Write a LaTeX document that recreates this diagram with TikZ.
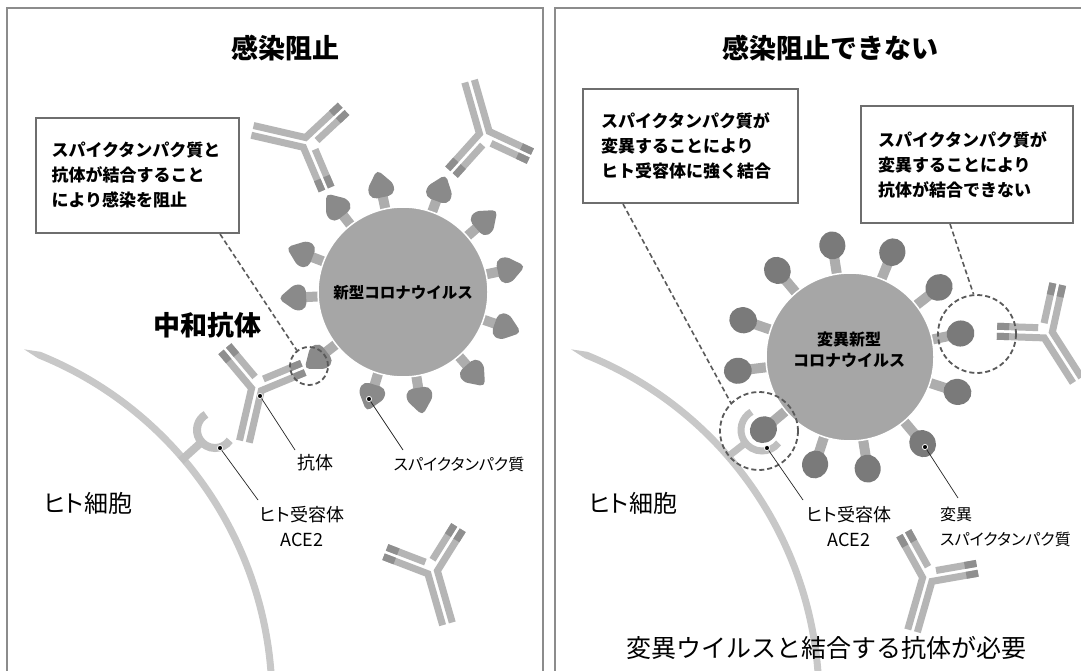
\documentclass[tikz,border=0pt]{standalone}
\usepackage{fontspec}
\setmainfont{Noto Sans CJK JP}
\newfontfamily\jpprop{Noto Sans CJK JP}[RawFeature=+palt]
\usetikzlibrary{calc}

\definecolor{framegray}{HTML}{8C8C8C}
\definecolor{boxgray}{HTML}{6E6E6E}
\definecolor{bodygray}{HTML}{A6A6A6}
\definecolor{stemgray}{HTML}{ADADAD}
\definecolor{headgray}{HTML}{8A8A8A}
\definecolor{mutgray}{HTML}{7A7A7A}
\definecolor{abgray}{HTML}{B5B5B5}
\definecolor{abvargray}{HTML}{8F8F8F}
\definecolor{wallgray}{HTML}{C8C8C8}
\definecolor{acegray}{HTML}{C0C0C0}
\definecolor{ringgray}{HTML}{5A5A5A}

% Y-shaped antibody: #1 stem angle, #2 and #3 arm angles (#3 lies counter-clockwise of #2)
\tikzset{
  pics/antibody/.style n args={3}{code={
    \begin{scope}[rotate=#1]
      \coordinate (hA0) at (0,-5); \coordinate (hA1) at (56,-5);
      \coordinate (hB0) at (0,5);  \coordinate (hB1) at (56,5);
    \end{scope}
    \begin{scope}[rotate=#2]
      \coordinate (cw0) at (0,5); \coordinate (cw1) at (50,5);
      \draw[abchain] (9,-5) -- (50,-5);
    \end{scope}
    \begin{scope}[rotate=#3]
      \coordinate (ccw0) at (0,-5); \coordinate (ccw1) at (50,-5);
      \draw[abchain] (9,5) -- (50,5);
    \end{scope}
    \draw[abchain] (hA1) -- (intersection of hA0--hA1 and cw0--cw1) -- (cw1);
    \draw[abchain] (hB1) -- (intersection of hB0--hB1 and ccw0--ccw1) -- (ccw1);
    \foreach \r in {#2,#3}{
      \begin{scope}[rotate=\r]
        \draw[abvar] (38,-5) -- (50,-5);
        \draw[abvar] (38,5) -- (50,5);
      \end{scope}
    }
  }}
}

\begin{document}
\begin{tikzpicture}[x=1pt, y=-1pt,
  frame/.style={draw=framegray, line width=1.4pt},
  title/.style={font=\bfseries\fontsize{27pt}{32pt}\selectfont},
  notebox/.style={draw=boxgray, line width=2pt, fill=white, anchor=north west, align=left,
    font=\bfseries\fontsize{17pt}{25pt}\selectfont},
  virus/.style={circle, fill=bodygray, draw=white, line width=1.5pt, inner sep=0pt},
  virusname/.style={align=center, font=\bfseries\fontsize{15.5pt}{21pt}\selectfont},
  spikestem/.style={draw=stemgray, line width=10pt},
  spikehead/.style={fill=headgray, rounded corners=5pt},
  abchain/.style={draw=abgray, line width=7pt, line join=miter},
  abvar/.style={draw=abvargray, line width=7pt},
  wall/.style={fill=wallgray},
  ace/.style={draw=acegray, line width=8pt},
  ring/.style={circle, draw=ringgray, line width=1.8pt, dash pattern=on 5pt off 3pt, inner sep=0pt},
  callout/.style={draw=ringgray, line width=1.6pt, dash pattern=on 5pt off 3pt},
  lbl/.style={align=center, inner sep=0pt, font=\jpprop\fontsize{18pt}{25pt}\selectfont},
  spikelbl/.style={lbl, font=\jpprop\fontsize{16pt}{25pt}\selectfont},
  leader/.style={draw=black!85, line width=0.7pt},
  dot/.style={fill=black, draw=white, line width=0.8pt}
]
\useasboundingbox (0,0) rectangle (1081,671);
\fill[white] (0,0) rectangle (1081,671);

% two panels
\draw[frame] (7,8) rectangle (543,700);
\draw[frame] (555,8) rectangle (1100,700);
\node[title] (titleL) at (285,48) {感染阻止};
\node[title] (titleR) at (830,48) {感染阻止できない};

% cell membranes
\foreach \cx in {-100,447}{
  \fill[wall] ($(\cx,700)+(-70.5:372)$) -- ($(\cx,700)+(-68:375.5)$)
    arc[start angle=-68, end angle=5, radius=375.5]
    -- ($(\cx,700)+(5:368.5)$) arc[start angle=5, end angle=-68, radius=368.5] -- cycle;
}

% ACE2 receptors
\draw[ace] ($(215,430)+(-120:18)$) arc[start angle=-120, end angle=-325, radius=18];
\draw[ace] ($(215,430)+(138:18)$) -- ($(215,430)+(138:46)$);
\draw[ace, line width=7pt] ($(762,430)+(-120:21)$) arc[start angle=-120, end angle=-322, radius=21];
\draw[ace, line width=7pt] ($(762,430)+(142:21)$) -- ($(762,430)+(142:44)$);

% coronavirus with spike proteins
\foreach \m in {102,70,41,12,-19,-49,-81,-107,-142,-177,159,128}{
  \begin{scope}[shift={(403,292)}, rotate=\m]
    \draw[spikestem] (80,0) -- (100,0);
    \fill[spikehead] (97,-11) -- (107,-14) -- (125,0) -- (107,14) -- (97,11) -- cycle;
  \end{scope}
}
\node[virus, minimum size=170pt] (cov) at (403,292) {};
\node[virusname] (covname) at (403,293) {新型コロナウイルス};

% variant with mutated spikes
\foreach \m in {130,99,68,38,12,-18,-50,-81,-108,-140,-173,161}{
  \begin{scope}[shift={(850,357)}, rotate=\m]
    \draw[spikestem] (80,0) -- (102,0);
    \fill[mutgray] (113,0) ellipse [x radius=14, y radius=13];
  \end{scope}
}
\node[virus, minimum size=168pt] (mcov) at (850,357) {};
\node[virusname, font=\bfseries\fontsize{16pt}{21pt}\selectfont] (mcovname) at (849,350) {変異新型\\コロナウイルス};

% antibodies
\pic at (307,143) {antibody={167}{-67}{43}};
\pic at (485,135) {antibody={106}{228}{335}};
\pic at (257,387) {antibody={257}{22.5}{130}};
\pic at (432,570) {antibody={286}{58}{159}};
\pic at (1047,333) {antibody={302.6}{77.6}{178}};
\pic at (928,577) {antibody={254}{10}{119}};

% binding sites
\node[ring, minimum size=38pt] (ringL) at (309,366) {};
\node[ring, minimum size=78pt] (ringACE) at (759,431) {};
\node[ring, minimum size=78pt] (ringAb) at (977,334) {};

% explanation boxes
\node[notebox, text width=172pt, inner xsep=15.5pt, minimum height=115pt] (noteL) at (35,117)
  {スパイクタンパク質と\\抗体が結合すること\\により感染を阻止};
\node[notebox, text width=179pt, inner xsep=18pt, minimum height=114pt] (noteR1) at (582,88)
  {スパイクタンパク質が\\変異することにより\\ヒト受容体に強く結合};
\node[notebox, text width=178pt, inner xsep=17pt, minimum height=117pt] (noteR2) at (860,105)
  {スパイクタンパク質が\\変異することにより\\抗体が結合できない};
\draw[callout] ($(noteL.south west)+(185,0)$) -- (ringL.128);
\draw[callout] ($(noteR1.south west)+(41,0)$) -- (ringACE.135);
\draw[callout] ($(noteR2.south west)+(90,0)$) -- (ringAb.95);

\node[font=\bfseries\fontsize{27pt}{32pt}\selectfont] (nab) at (207,325) {中和抗体};
\node[lbl, font=\jpprop\fontsize{24pt}{28pt}\selectfont] (cellL) at (88,503) {ヒト細胞};
\node[lbl, font=\jpprop\fontsize{24pt}{28pt}\selectfont] (cellR) at (633,503) {ヒト細胞};

% part labels
\coordinate (abdot) at (260,396);   \coordinate (abend) at (295,450);
\coordinate (acedotL) at (220,448); \coordinate (aceendL) at (258,500);
\coordinate (spdot) at (369,399);   \coordinate (spend) at (403,450);
\coordinate (acedotR) at (767,448); \coordinate (aceendR) at (803,500);
\coordinate (mutdot) at (925,447);  \coordinate (mutend) at (958,498);
\node[lbl] (ablbl) at (315,463) {抗体};
\node[lbl] (acelblL) at (302,527) {ヒト受容体\\ACE2};
\node[spikelbl] (splbl) at (459,464) {スパイクタンパク質};
\node[lbl] (acelblR) at (849,527) {ヒト受容体\\ACE2};
\node[spikelbl, anchor=west, align=left] (mutlbl) at (940,527) {変異\\スパイクタンパク質};
\foreach \d/\e in {abdot/abend, acedotL/aceendL, spdot/spend, acedotR/aceendR, mutdot/mutend}{
  \draw[leader] (\d) -- (\e);
  \filldraw[dot] (\d) circle (2.6);
}

\node[font=\fontsize{25pt}{30pt}\selectfont] (need) at (826,648) {変異ウイルスと結合する抗体が必要};
\end{tikzpicture}
\end{document}
